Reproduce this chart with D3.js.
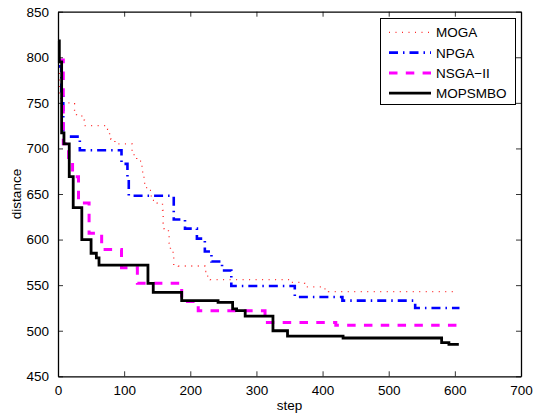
<!DOCTYPE html>
<html>
<head>
<meta charset="utf-8">
<script src="https://cdn.jsdelivr.net/npm/d3@7/dist/d3.min.js"></script>
<style>
  html, body { margin: 0; padding: 0; background: #fff; }
  svg { display: block; }
  text { font-family: "Liberation Sans", Arial, Helvetica, sans-serif; }
</style>
</head>
<body>
<div id="chart"></div>
<script>
// Convergence of the best distance per step for four optimisers.
// Each series is a staircase: distance holds from its step until the next one.
const mogaStep = [0, 2, 4, 20, 25, 28, 36, 40, 70, 75, 78, 80, 86, 108, 112, 115, 119, 127, 128, 130, 131, 136, 141, 150, 157, 158, 159, 160, 167, 168, 170, 174, 175, 182, 222, 225, 230, 345, 351, 368, 373, 401, 409, 604];
const mogaDist = [817, 760, 750, 749, 741, 737, 731, 725, 725, 721, 715, 710, 705, 705, 696, 691, 686, 679, 672, 665, 657, 654, 643, 640, 640, 632, 618, 612, 604, 596, 589, 581, 572, 571, 565, 560, 556, 556, 553, 552, 548, 546, 543, 543];

const npgaStep = [0, 5, 8, 33, 86, 96, 105, 107, 172, 175, 192, 210, 222, 232, 248, 262, 357, 358, 428, 430, 537, 540, 607];
const npgaDist = [790, 760, 713, 698, 698, 683, 666, 648, 648, 622, 612, 601, 587, 576, 566, 549, 549, 537, 537, 533, 533, 525, 525];

const nsgaStep = [0, 8, 16, 22, 31, 47, 66, 96, 120, 187, 212, 313, 420, 607];
const nsgaDist = [797, 705, 690, 669, 640, 607, 589, 569, 552, 532, 522, 509, 506, 506];

const mopsStep = [0, 2, 5.5, 9, 17, 23, 36, 50, 58, 62, 136, 144, 187, 242, 264, 270, 283, 325, 347, 431, 580, 591, 606];
const mopsDist = [818, 795, 717, 705, 669, 635, 600, 585, 580, 572, 552, 542, 533, 531, 524, 522, 516, 500, 494, 492, 487, 485, 485];

const seriesNames = ["MOGA", "NPGA", "NSGA-II", "MOPSMBO"];
const xTicks = [0, 100, 200, 300, 400, 500, 600, 700];
const yTicks = [450, 500, 550, 600, 650, 700, 750, 800, 850];

const W = 534, H = 417;
const L = 58, R = 521, T = 11.7, B = 376.3;

const x = d3.scaleLinear().domain([0, 700]).range([L, R]);
const y = d3.scaleLinear().domain([450, 850]).range([B, T]);

const svg = d3.select("#chart").append("svg")
  .attr("width", W).attr("height", H);

// line styles per series
const styles = [
  { color: "#ff0000", width: 1.3, dash: "1,5.5", opacity: 0.85 },
  { color: "#0000ff", width: 2.6, dash: "9,5,1.5,5", opacity: 1 },
  { color: "#ff00ff", width: 3, dash: "8.5,8.3", opacity: 1 },
  { color: "#000000", width: 2.8, dash: null, opacity: 1 }
];

const series = [
  d3.zip(mogaStep, mogaDist),
  d3.zip(npgaStep, npgaDist),
  d3.zip(nsgaStep, nsgaDist),
  d3.zip(mopsStep, mopsDist)
];

const line = d3.line()
  .x(d => x(d[0]))
  .y(d => y(d[1]))
  .curve(d3.curveStepAfter);

// white plot background
svg.append("rect")
  .attr("x", L).attr("y", T)
  .attr("width", R - L).attr("height", B - T)
  .attr("fill", "#fff");

const plot = svg.append("g");
series.forEach((s, i) => {
  plot.append("path")
    .datum(s)
    .attr("d", line)
    .attr("fill", "none")
    .attr("stroke", styles[i].color)
    .attr("stroke-width", styles[i].width)
    .attr("stroke-opacity", styles[i].opacity)
    .attr("stroke-dasharray", styles[i].dash)
    .attr("stroke-linejoin", "miter");
});

// axes: ticks point inward on all four sides
const tickLen = 5;
const fmt = d3.format("d");

const gB = svg.append("g").attr("transform", `translate(0,${B})`)
  .call(d3.axisBottom(x).tickValues(xTicks).tickFormat(fmt)
    .tickSizeInner(-tickLen).tickSizeOuter(0).tickPadding(tickLen + 4));
const gT = svg.append("g").attr("transform", `translate(0,${T})`)
  .call(d3.axisTop(x).tickValues(xTicks).tickFormat("")
    .tickSizeInner(-tickLen).tickSizeOuter(0));
const gL = svg.append("g").attr("transform", `translate(${L},0)`)
  .call(d3.axisLeft(y).tickValues(yTicks).tickFormat(fmt)
    .tickSizeInner(-tickLen).tickSizeOuter(0).tickPadding(tickLen + 4));
const gR = svg.append("g").attr("transform", `translate(${R},0)`)
  .call(d3.axisRight(y).tickValues(yTicks).tickFormat("")
    .tickSizeInner(-tickLen).tickSizeOuter(0));

[gB, gT, gL, gR].forEach(g => {
  g.select(".domain").attr("stroke", "#000").attr("stroke-width", 1.3);
  g.selectAll(".tick line").attr("stroke", "#000").attr("stroke-width", 0.8);
  g.selectAll(".tick text")
    .attr("fill", "#000")
    .style("font-size", "13.5px")
    .style("font-family", "'Liberation Sans', Arial, Helvetica, sans-serif");
});

// axis titles
svg.append("text")
  .attr("x", (L + R) / 2).attr("y", 410)
  .attr("text-anchor", "middle")
  .style("font-size", "13.5px")
  .text("step");

svg.append("text")
  .attr("transform", `translate(21,${(T + B) / 2}) rotate(-90)`)
  .attr("text-anchor", "middle")
  .style("font-size", "13.5px")
  .text("distance");

// legend
const lg = svg.append("g");
lg.append("rect")
  .attr("x", 380.5).attr("y", 18.5)
  .attr("width", 135).attr("height", 86)
  .attr("fill", "#fff")
  .attr("stroke", "#000").attr("stroke-width", 1);

seriesNames.forEach((name, i) => {
  const base = 37.3 + i * 20.3;
  lg.append("line")
    .attr("x1", 389).attr("x2", 431)
    .attr("y1", base - 5).attr("y2", base - 5)
    .attr("stroke", styles[i].color)
    .attr("stroke-width", styles[i].width)
    .attr("stroke-opacity", styles[i].opacity)
    .attr("stroke-dasharray", styles[i].dash);
  lg.append("text")
    .attr("x", 436).attr("y", base)
    .style("font-size", "13.5px")
    .text(name === "NSGA-II" ? "NSGA\u2212II" : name);
});
</script>
</body>
</html>
